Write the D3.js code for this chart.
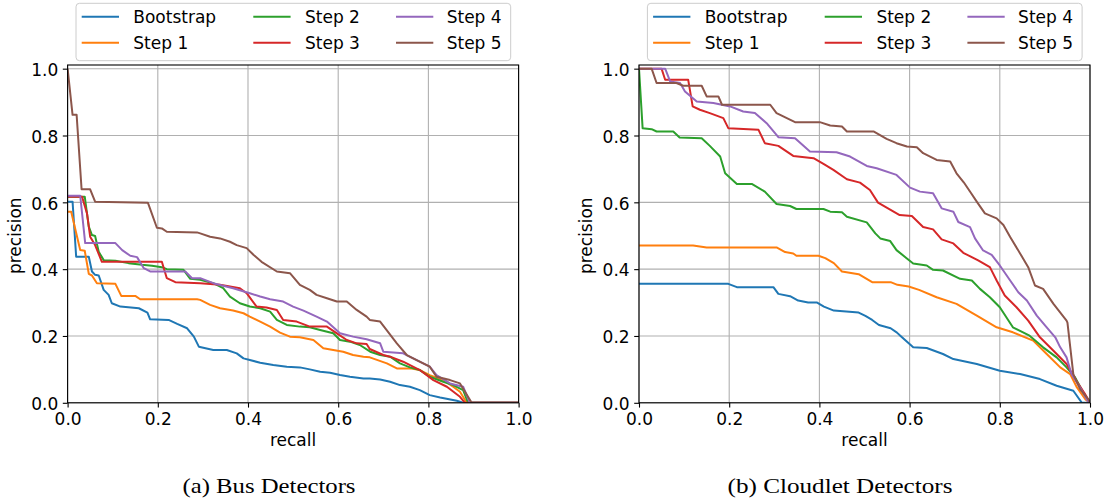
<!DOCTYPE html>
<html><head><meta charset="utf-8">
<script src="https://cdn.jsdelivr.net/npm/d3@7"></script>
<style>body{margin:0;background:#fff}svg{display:block}</style>
</head><body><svg id="chart" width="1109" height="498"></svg>
<script>
// ---------- data ----------
const xTicks = [0, 0.2, 0.4, 0.6, 0.8, 1.0];
const yTicks = [0, 0.2, 0.4, 0.6, 0.8, 1.0];
const seriesNames = ["Bootstrap", "Step 1", "Step 2", "Step 3", "Step 4", "Step 5"];
const seriesColors = ["#1f77b4", "#ff7f0e", "#2ca02c", "#d62728", "#9467bd", "#8c564b"];
const captions = ["(a) Bus Detectors", "(b) Cloudlet Detectors"];
const xLabel = "recall";
const yLabel = "precision";

// Bus detectors: [recall, precision]
const busBootstrap = [[0,0.602],[0.011,0.602],[0.019,0.437],[0.047,0.437],[0.054,0.393],[0.061,0.383],[0.069,0.381],[0.08,0.338],[0.091,0.323],[0.098,0.298],[0.117,0.288],[0.158,0.283],[0.177,0.27],[0.183,0.25],[0.224,0.248],[0.243,0.236],[0.265,0.223],[0.28,0.198],[0.291,0.168],[0.323,0.158],[0.353,0.158],[0.375,0.148],[0.39,0.133],[0.404,0.128],[0.427,0.12],[0.456,0.113],[0.486,0.108],[0.515,0.106],[0.537,0.1],[0.56,0.093],[0.582,0.09],[0.604,0.083],[0.626,0.078],[0.656,0.073],[0.67,0.073],[0.693,0.07],[0.715,0.063],[0.737,0.053],[0.759,0.048],[0.781,0.038],[0.803,0.023],[0.826,0.016],[0.863,0.006],[0.877,0],[1.0,0]];
const busStep1 = [[0,0.572],[0.008,0.572],[0.021,0.497],[0.028,0.457],[0.038,0.455],[0.047,0.386],[0.054,0.381],[0.065,0.358],[0.106,0.356],[0.119,0.32],[0.15,0.32],[0.161,0.31],[0.287,0.31],[0.294,0.308],[0.316,0.293],[0.338,0.283],[0.367,0.276],[0.39,0.268],[0.404,0.258],[0.427,0.243],[0.449,0.228],[0.471,0.21],[0.493,0.198],[0.515,0.196],[0.545,0.188],[0.567,0.163],[0.589,0.158],[0.611,0.153],[0.633,0.143],[0.656,0.138],[0.67,0.136],[0.708,0.118],[0.73,0.103],[0.759,0.103],[0.781,0.098],[0.803,0.083],[0.833,0.068],[0.855,0.048],[0.87,0.033],[0.885,0],[1.0,0]];
const busStep2 = [[0,0.617],[0.038,0.617],[0.047,0.527],[0.054,0.502],[0.061,0.499],[0.069,0.452],[0.08,0.427],[0.106,0.425],[0.135,0.418],[0.165,0.413],[0.187,0.41],[0.209,0.406],[0.22,0.4],[0.257,0.398],[0.272,0.371],[0.294,0.368],[0.323,0.358],[0.345,0.343],[0.36,0.318],[0.382,0.298],[0.404,0.288],[0.427,0.283],[0.449,0.273],[0.464,0.248],[0.486,0.233],[0.515,0.228],[0.537,0.226],[0.56,0.218],[0.589,0.208],[0.604,0.188],[0.626,0.183],[0.648,0.173],[0.671,0.153],[0.693,0.143],[0.715,0.138],[0.737,0.118],[0.759,0.106],[0.781,0.098],[0.803,0.078],[0.833,0.063],[0.855,0.053],[0.877,0.038],[0.888,0],[1.0,0]];
const busStep3 = [[0,0.617],[0.032,0.617],[0.043,0.567],[0.05,0.497],[0.061,0.472],[0.076,0.422],[0.209,0.422],[0.22,0.373],[0.239,0.361],[0.294,0.358],[0.338,0.353],[0.382,0.343],[0.397,0.328],[0.419,0.288],[0.441,0.285],[0.464,0.278],[0.478,0.248],[0.508,0.243],[0.537,0.228],[0.575,0.228],[0.597,0.208],[0.619,0.188],[0.641,0.178],[0.663,0.176],[0.67,0.161],[0.7,0.143],[0.715,0.138],[0.744,0.123],[0.781,0.098],[0.811,0.068],[0.841,0.048],[0.87,0.018],[0.881,0],[1.0,0]];
const busStep4 = [[0,0.62],[0.028,0.62],[0.039,0.478],[0.106,0.478],[0.121,0.457],[0.139,0.44],[0.154,0.436],[0.169,0.403],[0.183,0.393],[0.261,0.393],[0.276,0.373],[0.294,0.373],[0.323,0.358],[0.367,0.343],[0.404,0.328],[0.427,0.318],[0.449,0.31],[0.478,0.303],[0.5,0.288],[0.523,0.276],[0.552,0.258],[0.575,0.243],[0.604,0.208],[0.633,0.198],[0.663,0.19],[0.693,0.178],[0.7,0.153],[0.744,0.148],[0.774,0.128],[0.803,0.108],[0.818,0.083],[0.848,0.058],[0.877,0.048],[0.892,0],[1.0,0]];
const busStep5 = [[0,1.0],[0.011,0.862],[0.02,0.862],[0.031,0.639],[0.05,0.639],[0.061,0.602],[0.178,0.599],[0.198,0.524],[0.209,0.522],[0.22,0.512],[0.287,0.51],[0.294,0.507],[0.316,0.497],[0.338,0.492],[0.36,0.482],[0.375,0.472],[0.397,0.463],[0.412,0.443],[0.43,0.422],[0.464,0.393],[0.493,0.388],[0.515,0.353],[0.537,0.338],[0.552,0.323],[0.575,0.313],[0.597,0.303],[0.619,0.303],[0.641,0.278],[0.663,0.258],[0.67,0.248],[0.693,0.243],[0.73,0.178],[0.752,0.143],[0.774,0.128],[0.803,0.108],[0.818,0.078],[0.848,0.068],[0.87,0.058],[0.896,0],[1.0,0]];

// Cloudlet detectors: [recall, precision]
const cloudBootstrap = [[0,0.356],[0.198,0.356],[0.217,0.346],[0.298,0.346],[0.309,0.326],[0.335,0.319],[0.353,0.306],[0.375,0.3],[0.395,0.3],[0.41,0.288],[0.432,0.276],[0.487,0.27],[0.502,0.26],[0.517,0.248],[0.532,0.233],[0.558,0.223],[0.572,0.21],[0.58,0.2],[0.608,0.166],[0.638,0.164],[0.674,0.146],[0.697,0.131],[0.749,0.116],[0.8,0.096],[0.845,0.086],[0.889,0.071],[0.926,0.051],[0.963,0.036],[0.982,0],[1.0,0]];
const cloudStep1 = [[0,0.471],[0.12,0.471],[0.15,0.465],[0.305,0.465],[0.324,0.451],[0.342,0.447],[0.349,0.44],[0.398,0.44],[0.413,0.433],[0.432,0.418],[0.45,0.393],[0.487,0.385],[0.502,0.373],[0.517,0.361],[0.558,0.361],[0.573,0.353],[0.598,0.348],[0.621,0.338],[0.66,0.316],[0.704,0.296],[0.749,0.261],[0.793,0.226],[0.829,0.211],[0.874,0.186],[0.904,0.146],[0.934,0.106],[0.956,0.086],[0.971,0.046],[0.99,0.01],[1.0,0]];
const cloudStep2 = [[0,1.0],[0.008,0.822],[0.028,0.819],[0.039,0.812],[0.076,0.812],[0.09,0.794],[0.139,0.792],[0.157,0.769],[0.18,0.737],[0.191,0.687],[0.217,0.655],[0.25,0.655],[0.279,0.632],[0.305,0.595],[0.335,0.589],[0.349,0.58],[0.409,0.58],[0.424,0.572],[0.45,0.57],[0.461,0.557],[0.505,0.54],[0.524,0.507],[0.535,0.492],[0.557,0.484],[0.571,0.457],[0.594,0.432],[0.608,0.417],[0.638,0.411],[0.652,0.398],[0.674,0.396],[0.712,0.371],[0.738,0.366],[0.756,0.341],[0.778,0.316],[0.8,0.286],[0.829,0.226],[0.866,0.201],[0.896,0.166],[0.926,0.136],[0.948,0.106],[0.967,0.076],[0.985,0.031],[1.0,0]];
const cloudStep3 = [[0,1.0],[0.05,1.0],[0.058,0.967],[0.109,0.967],[0.119,0.887],[0.135,0.877],[0.157,0.867],[0.187,0.852],[0.198,0.822],[0.265,0.817],[0.279,0.777],[0.309,0.769],[0.342,0.739],[0.387,0.732],[0.409,0.715],[0.431,0.697],[0.461,0.669],[0.49,0.659],[0.512,0.637],[0.53,0.599],[0.578,0.562],[0.605,0.559],[0.63,0.526],[0.652,0.519],[0.671,0.489],[0.697,0.477],[0.719,0.449],[0.752,0.426],[0.778,0.406],[0.793,0.366],[0.811,0.321],[0.837,0.286],[0.863,0.246],[0.889,0.196],[0.919,0.156],[0.948,0.116],[0.967,0.071],[0.989,0.026],[1.0,0]];
const cloudStep4 = [[0,1.0],[0.058,1.0],[0.069,0.962],[0.091,0.957],[0.102,0.932],[0.128,0.902],[0.165,0.897],[0.202,0.887],[0.231,0.872],[0.257,0.867],[0.283,0.837],[0.309,0.795],[0.346,0.792],[0.379,0.752],[0.438,0.75],[0.468,0.737],[0.505,0.709],[0.527,0.702],[0.571,0.682],[0.601,0.644],[0.623,0.632],[0.652,0.627],[0.671,0.582],[0.697,0.572],[0.708,0.541],[0.734,0.526],[0.745,0.492],[0.763,0.456],[0.782,0.443],[0.8,0.411],[0.823,0.366],[0.841,0.331],[0.86,0.306],[0.882,0.261],[0.904,0.226],[0.923,0.196],[0.934,0.166],[0.948,0.136],[0.959,0.086],[0.978,0.046],[0.995,0.005],[1.0,0]];
const cloudStep5 = [[0,1.0],[0.028,1.0],[0.039,0.957],[0.083,0.957],[0.098,0.949],[0.139,0.949],[0.15,0.917],[0.176,0.917],[0.184,0.892],[0.291,0.892],[0.305,0.867],[0.313,0.862],[0.346,0.84],[0.401,0.84],[0.424,0.83],[0.45,0.827],[0.461,0.812],[0.52,0.812],[0.549,0.79],[0.571,0.777],[0.594,0.767],[0.616,0.765],[0.63,0.747],[0.66,0.727],[0.69,0.722],[0.704,0.687],[0.72,0.66],[0.735,0.63],[0.75,0.6],[0.767,0.567],[0.793,0.552],[0.808,0.532],[0.823,0.496],[0.845,0.447],[0.863,0.406],[0.878,0.351],[0.896,0.341],[0.919,0.296],[0.948,0.246],[0.95,0.24],[0.963,0.086],[0.978,0.041],[0.996,0.011],[1.0,0]];

// ---------- layout ----------
const FONT = "'DejaVu Sans', sans-serif";
const FS = 17;
const TEXT_COLOR = "#000";
const plotW = 451, plotTop = 65, plotBottom = 402.8;
const yMax = 1.011;
const panels = [
  { left: 67.6, captionX: 269, captionLen: 173, series: [busBootstrap, busStep1, busStep2, busStep3, busStep4, busStep5] },
  { left: 639.0, captionX: 840, captionLen: 225, series: [cloudBootstrap, cloudStep1, cloudStep2, cloudStep3, cloudStep4, cloudStep5] }
];

const svg = d3.select("#chart");
svg.append("rect").attr("width", 1109).attr("height", 498).attr("fill", "#fff");

panels.forEach((pn, pi) => {
  const x = d3.scaleLinear().domain([0, 1]).range([pn.left, pn.left + plotW]);
  const y = d3.scaleLinear().domain([0, yMax]).range([plotBottom, plotTop]);
  const g = svg.append("g");

  const clipId = "clip" + pi;
  svg.append("defs").append("clipPath").attr("id", clipId)
    .append("rect").attr("x", x(0)).attr("y", y(yMax)).attr("width", x(1) - x(0)).attr("height", y(0) - y(yMax));

  // grid
  g.append("g").selectAll("line").data(xTicks).join("line")
    .attr("x1", d => x(d)).attr("x2", d => x(d)).attr("y1", y(0)).attr("y2", y(yMax))
    .attr("stroke", "#b0b0b0").attr("stroke-width", 1.1);
  g.append("g").selectAll("line").data(yTicks).join("line")
    .attr("x1", x(0)).attr("x2", x(1)).attr("y1", d => y(d)).attr("y2", d => y(d))
    .attr("stroke", "#b0b0b0").attr("stroke-width", 1.1);

  // lines
  const line = d3.line().x(d => x(d[0])).y(d => y(d[1]));
  g.append("g").attr("clip-path", `url(#${clipId})`)
    .selectAll("path").data(pn.series).join("path")
    .attr("d", line).attr("fill", "none")
    .attr("stroke", (d, i) => seriesColors[i]).attr("stroke-width", 2)
    .attr("stroke-linejoin", "round").attr("stroke-linecap", "butt");

  // frame
  g.append("rect").attr("x", x(0)).attr("y", y(yMax)).attr("width", x(1) - x(0)).attr("height", y(0) - y(yMax))
    .attr("fill", "none").attr("stroke", "#000").attr("stroke-width", 1.1);

  // axes
  const xa = g.append("g").attr("transform", `translate(0,${y(0)})`)
    .call(d3.axisBottom(x).tickValues(xTicks).tickFormat(d3.format(".1f")).tickSize(4.8).tickPadding(5.5).tickSizeOuter(0));
  const ya = g.append("g").attr("transform", `translate(${x(0)},0)`)
    .call(d3.axisLeft(y).tickValues(yTicks).tickFormat(d3.format(".1f")).tickSize(4.8).tickPadding(4.6).tickSizeOuter(0));
  [xa, ya].forEach(a => {
    a.select(".domain").remove();
    a.selectAll(".tick line").attr("stroke", "#000").attr("stroke-width", 1.1);
    a.selectAll(".tick text").attr("font-family", FONT).attr("font-size", FS).attr("fill", TEXT_COLOR);
  });
  ya.selectAll(".tick text").attr("dy", "0.4em");

  // axis labels
  g.append("text").attr("x", (x(0) + x(1)) / 2).attr("y", 446).attr("text-anchor", "middle")
    .attr("font-family", FONT).attr("font-size", FS).attr("fill", TEXT_COLOR).text(xLabel);
  g.append("text").attr("transform", `translate(${x(0) - 46.6},${(y(0) + y(1)) / 2}) rotate(-90)`)
    .attr("text-anchor", "middle").attr("font-family", FONT).attr("font-size", FS).attr("fill", TEXT_COLOR).text(yLabel);

  // legend
  const lg = g.append("g").attr("transform", `translate(${x(0) + 8.4},3.3)`);
  lg.append("rect").attr("width", 434.7).attr("height", 57.4).attr("rx", 3.5)
    .attr("fill", "#fff").attr("fill-opacity", 0.8).attr("stroke", "#cccccc").attr("stroke-width", 1);
  const colX = [5.7, 177.3, 320];
  const textX = [57.3, 229, 370.7];
  const rowY = [13.4, 39.4];
  seriesNames.forEach((name, i) => {
    const c = Math.floor(i / 2), r = i % 2;
    lg.append("line").attr("x1", colX[c]).attr("x2", colX[c] + 37.3).attr("y1", rowY[r]).attr("y2", rowY[r])
      .attr("stroke", seriesColors[i]).attr("stroke-width", 2);
    lg.append("text").attr("x", textX[c]).attr("y", rowY[r] + 6.2)
      .attr("font-family", FONT).attr("font-size", FS).attr("fill", TEXT_COLOR).text(name);
  });

  // caption
  svg.append("text").attr("x", pn.captionX).attr("y", 493).attr("text-anchor", "middle")
    .attr("font-family", "'Liberation Serif', 'Times New Roman', serif").attr("font-size", 22)
    .attr("textLength", pn.captionLen).attr("lengthAdjust", "spacingAndGlyphs")
    .attr("fill", "#000").text(captions[pi]);
});
</script>
</body></html>
